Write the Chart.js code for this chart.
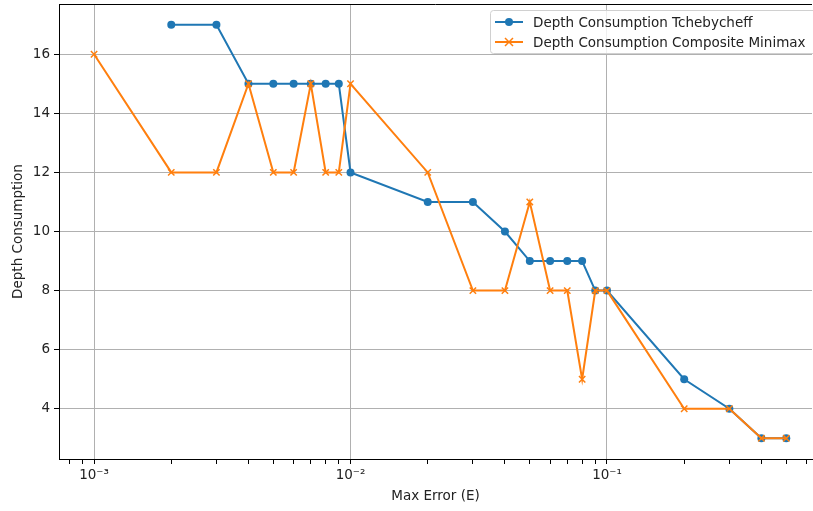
<!DOCTYPE html>
<html>
<head>
<meta charset="utf-8">
<script src="https://cdn.jsdelivr.net/npm/chart.js@4/dist/chart.umd.min.js"></script>
<style>
  html, body { margin: 0; padding: 0; background: #fff; }
  #grafik { display: block; }
</style>
</head>
<body>
<canvas id="grafik" width="813" height="511"></canvas>
<script>
// data
const errTcheby = [0.002, 0.003, 0.004, 0.005, 0.006, 0.007, 0.008, 0.009, 0.01, 0.02, 0.03, 0.04, 0.05, 0.06, 0.07, 0.08, 0.09, 0.1, 0.2, 0.3, 0.4, 0.5];
const depthTcheby = [17, 17, 15, 15, 15, 15, 15, 15, 12, 11, 11, 10, 9, 9, 9, 9, 8, 8, 5, 4, 3, 3];

const errMinimax = [0.001, 0.002, 0.003, 0.004, 0.005, 0.006, 0.007, 0.008, 0.009, 0.01, 0.02, 0.03, 0.04, 0.05, 0.06, 0.07, 0.08, 0.09, 0.1, 0.2, 0.3, 0.4, 0.5];
const depthMinimax = [16, 12, 12, 15, 12, 12, 15, 12, 12, 15, 12, 8, 8, 11, 8, 8, 5, 8, 8, 4, 4, 3, 3];

const xMajorTicks = [0.001, 0.01, 0.1];
const xMajorLabels = ['10\u207B\u00B3', '10\u207B\u00B2', '10\u207B\u00B9'];
const yTicks = [4, 6, 8, 10, 12, 14, 16];

const labelTcheby = 'Depth Consumption Tchebycheff';
const labelMinimax = 'Depth Consumption Composite Minimax';

const warnaBiru = '#1f77b4';
const warnaOranye = '#ff7f0e';
const hurufDasar = 'DejaVu Sans';
const ukuranHuruf = 13.5;

const xMin = 7.3e-4;
const xMax = 0.63;

function gabung(xs, ys) {
    return xs.map((x, i) => ({ x: x, y: ys[i] }));
}

// tick minor tiap dekade
function buatTickX() {
    const ticks = [];
    for (let d = -4; d <= 0; d++) {
        for (let m = 1; m <= 9; m++) {
            const v = m * Math.pow(10, d);
            if (v >= xMin && v <= xMax) ticks.push({ value: v, major: m === 1 });
        }
    }
    return ticks;
}

// legenda di pojok kanan atas + bingkai atas
const pluginLegenda = {
    id: 'legendaDalam',
    afterDraw(chart) {
        const c = chart.ctx;
        const area = chart.chartArea;
        c.save();
        c.strokeStyle = '#000';
        c.lineWidth = 1;
        c.beginPath();
        c.moveTo(area.left, area.top + 0.5);
        c.lineTo(area.right, area.top + 0.5);
        c.stroke();

        const kiri = 490, atas = 10, lebar = 330, tinggi = 43;
        c.fillStyle = 'rgba(255,255,255,0.8)';
        c.strokeStyle = '#d0d0d0';
        c.beginPath();
        c.roundRect(kiri + 0.5, atas + 0.5, lebar, tinggi, 3);
        c.fill();
        c.stroke();

        const baris = [
            { teks: labelTcheby, warna: warnaBiru, y: 22, tanda: 'bulat' },
            { teks: labelMinimax, warna: warnaOranye, y: 42, tanda: 'silang' }
        ];
        c.font = ukuranHuruf + 'px "' + hurufDasar + '"';
        c.textBaseline = 'middle';
        baris.forEach(b => {
            c.strokeStyle = b.warna;
            c.fillStyle = b.warna;
            c.lineWidth = 2;
            c.beginPath();
            c.moveTo(495, b.y);
            c.lineTo(523, b.y);
            c.stroke();
            if (b.tanda === 'bulat') {
                c.beginPath();
                c.arc(509, b.y, 4, 0, Math.PI * 2);
                c.fill();
            } else {
                c.lineWidth = 1.5;
                c.beginPath();
                c.moveTo(505, b.y - 4); c.lineTo(513, b.y + 4);
                c.moveTo(505, b.y + 4); c.lineTo(513, b.y - 4);
                c.stroke();
            }
            c.fillStyle = '#222';
            c.fillText(b.teks, 533, b.y + 1);
        });
        c.restore();
    }
};

const ctx = document.getElementById('grafik').getContext('2d');

const grafik = new Chart(ctx, {
    type: 'line',
    data: {
        datasets: [{
            label: labelTcheby,
            data: gabung(errTcheby, depthTcheby),
            borderColor: warnaBiru,
            backgroundColor: warnaBiru,
            borderWidth: 2,
            pointStyle: 'circle',
            pointRadius: 4,
            pointBorderWidth: 0,
            tension: 0,
            fill: false,
            order: 2
        }, {
            label: labelMinimax,
            data: gabung(errMinimax, depthMinimax),
            borderColor: warnaOranye,
            backgroundColor: warnaOranye,
            borderWidth: 2,
            pointStyle: 'crossRot',
            pointRadius: 4.5,
            pointBorderWidth: 1.5,
            tension: 0,
            fill: false,
            order: 1
        }]
    },
    options: {
        responsive: false,
        animation: false,
        layout: { autoPadding: false, padding: { left: 0, top: 4, right: 1, bottom: 0 } },
        plugins: {
            legend: { display: false },
            tooltip: { enabled: false }
        },
        scales: {
            x: {
                type: 'logarithmic',
                min: xMin,
                max: xMax,
                afterBuildTicks: scale => { scale.ticks = buatTickX(); },
                afterFit: scale => {
                    scale.height = 52;
                    scale.paddingLeft = 0;
                    scale.paddingRight = 0;
                },
                border: { color: '#000', width: 1 },
                grid: {
                    color: c => (c.tick && c.tick.major) ? '#b0b0b0' : 'rgba(0,0,0,0)',
                    lineWidth: 1,
                    tickColor: '#000',
                    tickLength: 5,
                    drawOnChartArea: true
                },
                ticks: {
                    autoSkip: false,
                    maxRotation: 0,
                    padding: 3,
                    color: '#222',
                    font: { family: hurufDasar, size: ukuranHuruf },
                    callback: function (value) {
                        const i = xMajorTicks.findIndex(t => Math.abs(t - value) < t * 1e-6);
                        return i >= 0 ? xMajorLabels[i] : '';
                    }
                },
                title: {
                    display: true,
                    text: 'Max Error (E)',
                    color: '#222',
                    font: { family: hurufDasar, size: ukuranHuruf },
                    padding: { top: 4, bottom: 6 }
                }
            },
            y: {
                type: 'linear',
                min: 2.3,
                max: 17.7,
                afterBuildTicks: scale => { scale.ticks = yTicks.map(v => ({ value: v })); },
                afterFit: scale => {
                    scale.width = 59;
                    scale.paddingTop = 0;
                    scale.paddingBottom = 0;
                },
                border: { color: '#000', width: 1 },
                grid: {
                    color: '#b0b0b0',
                    lineWidth: 1,
                    tickColor: '#000',
                    tickLength: 5
                },
                ticks: {
                    padding: 4,
                    color: '#222',
                    font: { family: hurufDasar, size: ukuranHuruf }
                },
                title: {
                    display: true,
                    text: 'Depth Consumption',
                    color: '#222',
                    font: { family: hurufDasar, size: ukuranHuruf },
                    padding: { top: 10, bottom: 4 }
                }
            }
        }
    },
    plugins: [pluginLegenda]
});
</script>
</body>
</html>
